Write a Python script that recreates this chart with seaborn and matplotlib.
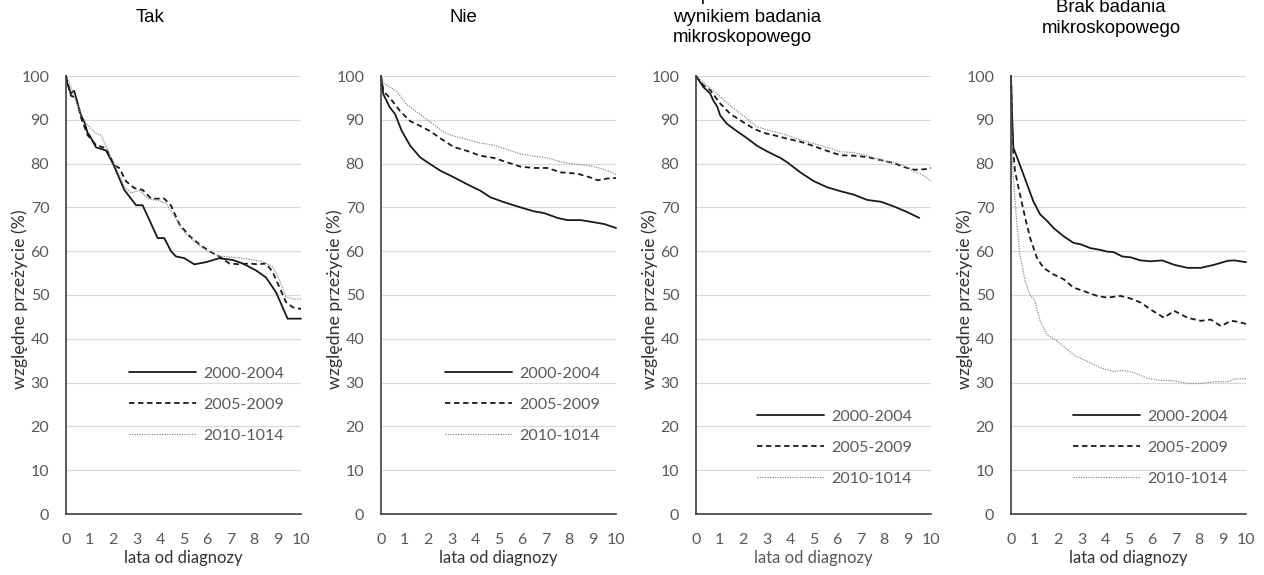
import numpy as np
import pandas as pd
import matplotlib
matplotlib.use("Agg")
import matplotlib.pyplot as plt
import seaborn as sns

sns.set_theme(style="white")
plt.rcParams['font.family'] = ['Lato', 'DejaVu Sans']

# ---------------- data ----------------
periods = ["2000-2004", "2005-2009", "2010-1014"]
titles = [["Tak"], ["Nie"],
          ["Niepotwierdzone z", "wynikiem badania", "mikroskopowego"],
          ["Brak badania", "mikroskopowego"]]

# panel 1: Tak
p1_a_x = [0, 0.07, 0.21, 0.35, 0.5, 0.64, 0.78, 0.92, 1.0, 1.28, 1.7, 2.0, 2.48, 2.98, 3.26, 3.9, 4.18, 4.47, 4.68, 5.04, 5.46, 5.96, 6.52, 7.09, 7.52, 8.09, 8.51, 8.94, 9.43, 10]
p1_a_y = [100, 98, 96, 96.6, 93.6, 91, 89.5, 87, 86.5, 83.7, 83, 80, 74, 70.5, 70.5, 63, 63, 60, 58.8, 58.4, 57, 57.5, 58.4, 58, 57.2, 55.6, 54, 50.6, 44.6, 44.6]
p1_b_x = [0, 0.21, 0.43, 0.64, 0.92, 1.28, 1.7, 2.06, 2.27, 2.55, 2.91, 3.26, 3.62, 3.97, 4.18, 4.47, 4.82, 5.25, 5.67, 6.1, 6.52, 6.95, 7.38, 7.8, 8.16, 8.51, 8.79, 9.08, 9.36, 9.65, 10]
p1_b_y = [100, 95.5, 95, 90.5, 86.5, 84.2, 83.5, 79.6, 79, 76, 74.4, 74, 72, 72, 72, 70.4, 66.2, 63.5, 61.6, 60, 58.8, 57.2, 57, 57.2, 57, 57.2, 55.3, 51.8, 48.4, 47.2, 46.8]
p1_c_x = [0, 0.21, 0.57, 0.85, 1.28, 1.49, 1.84, 2.13, 2.48, 2.77, 3.12, 3.48, 3.9, 4.26, 4.54, 4.96, 5.39, 5.96, 6.52, 7.09, 7.66, 8.37, 8.79, 9.08, 9.36, 9.65, 10]
p1_c_y = [100, 97.5, 92.2, 89.2, 86.9, 86.5, 82.3, 79.2, 74.7, 73.3, 73.9, 72, 71.6, 70.9, 68.6, 64.8, 62.5, 60.2, 58.9, 58.6, 58.3, 57.6, 56.5, 53.4, 49.6, 49.1, 49.1]

# panel 2: Nie
p2_a_x = [0, 0.1, 0.38, 0.6, 0.88, 1.24, 1.67, 2.09, 2.52, 3.09, 3.66, 4.23, 4.66, 5.23, 5.94, 6.51, 6.94, 7.51, 7.93, 8.5, 9.07, 9.5, 10]
p2_a_y = [100, 95.8, 92.8, 91.3, 87.5, 84.1, 81.4, 79.9, 78.4, 76.9, 75.3, 73.8, 72.3, 71.2, 70, 69.1, 68.7, 67.6, 67.1, 67.1, 66.6, 66.2, 65.3]
p2_b_x = [0, 0.1, 0.38, 0.81, 1.24, 1.67, 2.09, 2.52, 3.09, 3.66, 4.23, 4.8, 5.37, 5.94, 6.51, 7.08, 7.65, 8.36, 8.93, 9.22, 9.64, 10]
p2_b_y = [100, 96.5, 95, 92, 89.7, 88.6, 87.4, 85.8, 83.8, 82.9, 81.8, 81.3, 80.3, 79.3, 79, 79, 78, 77.7, 76.8, 76.2, 76.6, 76.7]
p2_c_x = [0, 0.1, 0.67, 1.09, 1.67, 2.24, 2.66, 3.09, 3.66, 4.23, 4.8, 5.37, 5.94, 6.51, 7.08, 7.65, 8.22, 8.79, 9.36, 9.79, 10]
p2_c_y = [100, 98.4, 96.5, 93.5, 91.2, 88.9, 87.2, 86.3, 85.5, 84.7, 84.2, 83.2, 82.2, 81.7, 81.3, 80.4, 79.9, 79.6, 78.9, 78.1, 77.5]

# panel 3
p3_a_x = [0, 0.31, 0.6, 0.74, 0.91, 1.03, 1.31, 1.74, 2.17, 2.59, 3.02, 3.59, 3.88, 4.44, 5.01, 5.58, 6.15, 6.72, 7.29, 7.86, 8.43, 9.0, 9.5]
p3_a_y = [100, 97.5, 96, 94.4, 92.9, 91, 89.1, 87.4, 85.8, 84.1, 82.8, 81.3, 80.3, 78, 76, 74.6, 73.7, 72.9, 71.7, 71.3, 70.2, 68.9, 67.6]
p3_b_x = [0, 0.31, 0.6, 1.03, 1.45, 1.88, 2.45, 2.88, 3.3, 3.87, 4.44, 5.01, 5.58, 6.15, 6.72, 7.29, 7.86, 8.43, 8.86, 9.29, 9.72, 10]
p3_b_y = [100, 97.9, 96.8, 93.7, 91.4, 89.9, 88, 87, 86.5, 85.7, 85, 84, 82.9, 81.9, 81.8, 81.5, 80.8, 80.1, 79.2, 78.6, 78.7, 79]
p3_c_x = [0, 0.46, 1.03, 1.6, 2.17, 2.59, 3.3, 3.87, 4.44, 5.01, 5.58, 6.15, 6.72, 7.29, 7.86, 8.43, 8.86, 9.29, 9.72, 10]
p3_c_y = [100, 97.9, 95.3, 92.6, 90.3, 88.4, 87.3, 86.5, 85.4, 84.6, 83.7, 82.7, 82.5, 81.8, 80.8, 80.2, 79.5, 78.2, 77.2, 76]

# panel 4: Brak badania
p4_a_x = [0, 0.04, 0.1, 0.24, 0.53, 0.95, 1.24, 1.52, 1.81, 2.24, 2.66, 2.95, 3.38, 3.8, 4.09, 4.37, 4.73, 5.09, 5.51, 5.94, 6.44, 6.94, 7.51, 8.08, 8.65, 9.22, 9.5, 10]
p4_a_y = [100, 92, 83.6, 81.7, 77.5, 71.4, 68.4, 67, 65.3, 63.4, 61.9, 61.6, 60.7, 60.3, 59.9, 59.8, 58.8, 58.6, 57.9, 57.7, 57.9, 56.9, 56.2, 56.2, 56.9, 57.8, 57.9, 57.5]
p4_b_x = [0, 0.07, 0.17, 0.38, 0.6, 0.81, 1.1, 1.38, 1.81, 2.24, 2.66, 3.09, 3.66, 4.09, 4.66, 5.09, 5.51, 5.94, 6.51, 6.94, 7.51, 8.08, 8.5, 8.93, 9.36, 9.65, 10]
p4_b_y = [100, 84.4, 78.3, 73, 67.7, 63.1, 58.5, 56.2, 54.7, 53.6, 51.7, 50.9, 49.8, 49.4, 49.8, 49.2, 48.3, 46.7, 44.8, 46.4, 44.8, 44.1, 44.4, 42.9, 44.1, 43.9, 43.4]
p4_c_x = [0, 0.06, 0.13, 0.24, 0.38, 0.6, 0.81, 1.02, 1.24, 1.52, 1.95, 2.38, 2.73, 3.23, 3.8, 4.37, 4.73, 5.23, 5.8, 6.37, 6.94, 7.51, 8.08, 8.65, 9.22, 9.5, 10]
p4_c_y = [100, 80.6, 74.5, 66.9, 59.3, 53.2, 50.1, 48.6, 44.1, 41, 39.5, 37.6, 36.1, 34.9, 33.4, 32.5, 32.8, 32.3, 31, 30.5, 30.4, 29.8, 29.8, 30.2, 30.2, 30.8, 30.9]

panels = [
    [(p1_a_x, p1_a_y), (p1_b_x, p1_b_y), (p1_c_x, p1_c_y)],
    [(p2_a_x, p2_a_y), (p2_b_x, p2_b_y), (p2_c_x, p2_c_y)],
    [(p3_a_x, p3_a_y), (p3_b_x, p3_b_y), (p3_c_x, p3_c_y)],
    [(p4_a_x, p4_a_y), (p4_b_x, p4_b_y), (p4_c_x, p4_c_y)],
]

xticks = list(range(0, 11))
yticks = list(range(0, 101, 10))
xlabel = "lata od diagnozy"
ylabel = "względne przeżycie (%)"

# ---------------- styling ----------------
W, H = 1264, 575
fig = plt.figure(figsize=(W / 100, H / 100), dpi=100)

ax_left_px = [66, 381, 696, 1011]
ax_w_px = 235
ax_top_px, ax_bot_px = 76, 514

styles = [dict(color="#1a1a1a", lw=1.3, ls="-"),
          dict(color="#1a1a1a", lw=1.3, ls=(0, (3, 2))),
          dict(color="#8c8c8c", lw=0.9, ls=(0, (1, 1)))]

legend_pos = [(0.60, 0.249), (0.603, 0.249), (0.59, 0.151), (0.594, 0.151)]
title_cfg = [
    dict(x=150, ys=[22.3], ha="center"),
    dict(x=463, ys=[22.3], ha="center"),
    dict(x=673, ys=[0.5, 21.5, 42.5], ha="left"),
    dict(x=1111, ys=[12, 33], ha="center"),
]
tick_col = "#595959"
spine_col = "#404040"

for i, series in enumerate(panels):
    ax = fig.add_axes([ax_left_px[i] / W, (H - ax_bot_px) / H,
                       ax_w_px / W, (ax_bot_px - ax_top_px) / H])
    for (xs, ys), per, st in zip(series, periods, styles):
        df = pd.DataFrame({"x": xs, "y": ys})
        sns.lineplot(data=df, x="x", y="y", ax=ax, estimator=None, sort=False,
                     color=st["color"], linewidth=st["lw"], linestyle=st["ls"],
                     label=per, clip_on=False)
    ax.set_xlim(0, 10)
    ax.set_ylim(0, 100)
    ax.set_xticks(xticks)
    ax.set_yticks(yticks)
    ax.grid(axis="y", color="#d9d9d9", lw=0.9)
    ax.set_axisbelow(True)
    for s in ["top", "right"]:
        ax.spines[s].set_visible(False)
    for s in ["left", "bottom"]:
        ax.spines[s].set_color(spine_col)
        ax.spines[s].set_linewidth(1.2)
    ax.tick_params(axis="x", direction="in", length=4, width=1.1, color=spine_col,
                   labelsize=11.5, labelcolor=tick_col, pad=14)
    ax.tick_params(axis="y", direction="in", length=4, width=1.1, color=spine_col,
                   labelsize=11.5, labelcolor=tick_col, pad=12)
    ax.set_xlabel(xlabel, fontsize=12, color="#595959" if i == 2 else "#333333", labelpad=2)
    ax.set_ylabel(ylabel, fontsize=12.8, color="#333333")
    ax.yaxis.set_label_coords(-0.16, 0.49)
    leg = ax.legend(loc="center", bbox_to_anchor=legend_pos[i], frameon=False,
                    handlelength=4.2, handletextpad=0.45, labelspacing=1.05,
                    fontsize=11.5, borderpad=0)
    for t in leg.get_texts():
        t.set_color(tick_col)
    cfg = title_cfg[i]
    for line, yb in zip(titles[i], cfg["ys"]):
        fig.text(cfg["x"] / W, 1 - yb / H, line, ha=cfg["ha"], va="baseline",
                 fontsize=13.4, family="Liberation Sans", color="#000000")

fig.savefig("out.png", dpi=100)
